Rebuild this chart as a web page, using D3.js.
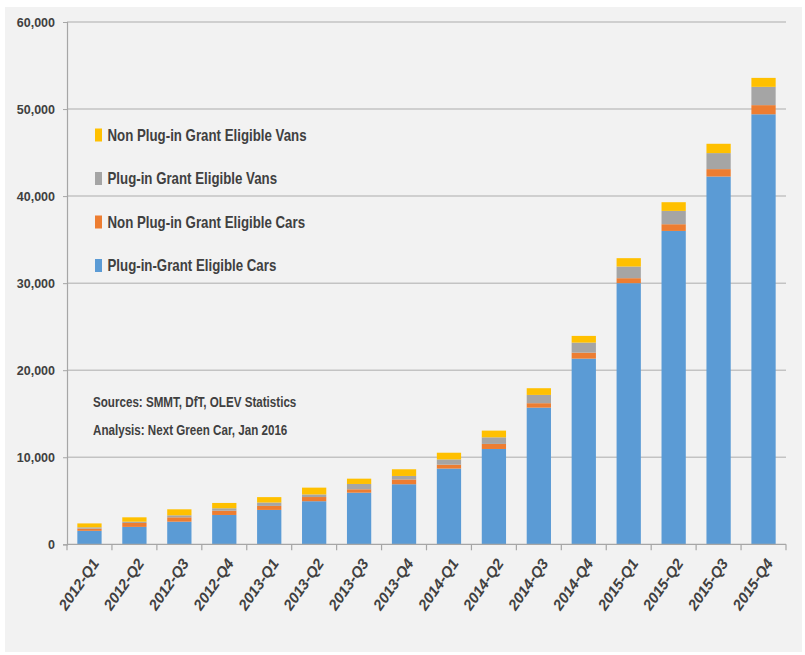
<!DOCTYPE html>
<html>
<head>
<meta charset="utf-8">
<script src="https://cdn.jsdelivr.net/npm/d3@7"></script>
<style>
  html, body { margin: 0; padding: 0; background: #ffffff; }
  svg { display: block; }
  text { font-family: "Liberation Sans", Arial, sans-serif; fill: #404040; }
</style>
</head>
<body>
<svg id="chart" width="805" height="655"></svg>
<script>
// Quarterly cumulative grant-eligible vehicle registrations (UK)
const quarters = ["2012-Q1", "2012-Q2", "2012-Q3", "2012-Q4",
                  "2013-Q1", "2013-Q2", "2013-Q3", "2013-Q4",
                  "2014-Q1", "2014-Q2", "2014-Q3", "2014-Q4",
                  "2015-Q1", "2015-Q2", "2015-Q3", "2015-Q4"];
const plugInCars    = [1550, 2000, 2600, 3370, 3950, 4950, 5930, 6900, 8700, 10950, 15700, 21330, 30000, 36000, 42250, 49400];
const nonPlugInCars = [250, 450, 500, 490, 460, 480, 390, 550, 450, 580, 510, 690, 570, 770, 850, 1050];
const plugInVans    = [150, 150, 230, 280, 390, 300, 610, 400, 600, 760, 950, 1150, 1340, 1530, 1840, 2100];
const nonPlugInVans = [450, 500, 690, 610, 620, 780, 610, 770, 770, 770, 770, 770, 960, 1000, 1070, 1030];
const yTicks = [0, 10000, 20000, 30000, 40000, 50000, 60000];

const seriesDefs = [
  { key: "cars",    label: "Plug-in-Grant Eligible Cars",     values: plugInCars,    color: "#5b9bd5" },
  { key: "npCars",  label: "Non Plug-in Grant Eligible Cars", values: nonPlugInCars, color: "#ed7d31" },
  { key: "vans",    label: "Plug-in Grant Eligible Vans",     values: plugInVans,    color: "#a5a5a5" },
  { key: "npVans",  label: "Non Plug-in Grant Eligible Vans", values: nonPlugInVans, color: "#ffc000" }
];

const rows = quarters.map((q, i) => {
  const r = { quarter: q };
  seriesDefs.forEach(s => { r[s.key] = s.values[i]; });
  return r;
});

const svg = d3.select("#chart");
const plotLeft = 67, plotRight = 786, plotTop = 22, plotBottom = 544.3;
const squeeze = 0.83; // condensed lettering

// panel background
svg.append("rect").attr("x", 5).attr("y", 7).attr("width", 797).attr("height", 645).attr("fill", "#f2f2f2");

const x = d3.scaleBand().domain(quarters).range([plotLeft, plotRight]).paddingInner(0.46).paddingOuter(0.23);
const y = d3.scaleLinear().domain([0, 60000]).range([plotBottom, plotTop]);

// horizontal gridlines
svg.append("g")
  .selectAll("line")
  .data(yTicks.filter(t => t > 0))
  .join("line")
  .attr("x1", plotLeft).attr("x2", plotRight)
  .attr("y1", d => y(d)).attr("y2", d => y(d))
  .attr("stroke", "#c3c3c3").attr("stroke-width", 1.5);

// y axis
const yAxis = d3.axisLeft(y).tickValues(yTicks).tickSize(4).tickPadding(8).tickFormat(d3.format(","));
const gy = svg.append("g").attr("transform", `translate(${plotLeft},0)`).call(yAxis);
gy.select(".domain").attr("stroke", "#a6a6a6").attr("stroke-width", 1.2);
gy.selectAll(".tick line").attr("stroke", "#a6a6a6");
gy.selectAll(".tick text")
  .style("font-family", "'Liberation Sans', Arial, sans-serif")
  .style("font-size", "12.5px").style("font-weight", "bold").attr("fill", "#404040");

// stacked bars
const stack = d3.stack().keys(seriesDefs.map(s => s.key));
const layers = stack(rows);
svg.append("g")
  .selectAll("g")
  .data(layers)
  .join("g")
  .attr("fill", (d, i) => seriesDefs[i].color)
  .selectAll("rect")
  .data(d => d)
  .join("rect")
  .attr("x", d => x(d.data.quarter))
  .attr("width", x.bandwidth())
  .attr("y", d => y(d[1]))
  .attr("height", d => y(d[0]) - y(d[1]));

// x axis: ticks on category boundaries
const step = x.step();
const gx = svg.append("g");
gx.append("line").attr("x1", plotLeft).attr("x2", plotRight).attr("y1", plotBottom).attr("y2", plotBottom)
  .attr("stroke", "#a6a6a6").attr("stroke-width", 1.2);
gx.selectAll("line.tk")
  .data(d3.range(quarters.length + 1))
  .join("line").attr("class", "tk")
  .attr("x1", i => plotLeft + i * step).attr("x2", i => plotLeft + i * step)
  .attr("y1", plotBottom).attr("y2", plotBottom + 6)
  .attr("stroke", "#a6a6a6").attr("stroke-width", 1.2);
gx.selectAll("text")
  .data(quarters)
  .join("text")
  .attr("transform", d => `translate(${x(d) + x.bandwidth() / 2 + 6},${plotBottom + 16}) rotate(-55)`)
  .attr("text-anchor", "end")
  .attr("dy", "0.35em")
  .style("font-size", "15px").style("font-weight", "bold").style("font-style", "italic")
  .text(d => d);

// legend
const legendOrder = seriesDefs.slice().reverse();
const lg = svg.append("g").selectAll("g").data(legendOrder).join("g")
  .attr("transform", (d, i) => `translate(95,${135 + i * 43.5})`);
lg.append("rect").attr("x", 0).attr("y", -6.5).attr("width", 7).attr("height", 13).attr("fill", d => d.color);
lg.append("text")
  .attr("transform", `translate(12.5,0) scale(${squeeze},1)`)
  .attr("dy", "0.35em")
  .style("font-size", "16px").style("font-weight", "bold")
  .text(d => d.label);

// source notes
const notes = ["Sources: SMMT, DfT, OLEV Statistics", "Analysis: Next Green Car, Jan 2016"];
svg.append("g").selectAll("text").data(notes).join("text")
  .attr("transform", (d, i) => `translate(93,${402 + i * 28.5}) scale(${squeeze},1)`)
  .attr("dy", "0.35em")
  .style("font-size", "14px").style("font-weight", "bold")
  .text(d => d);
</script>
</body>
</html>
